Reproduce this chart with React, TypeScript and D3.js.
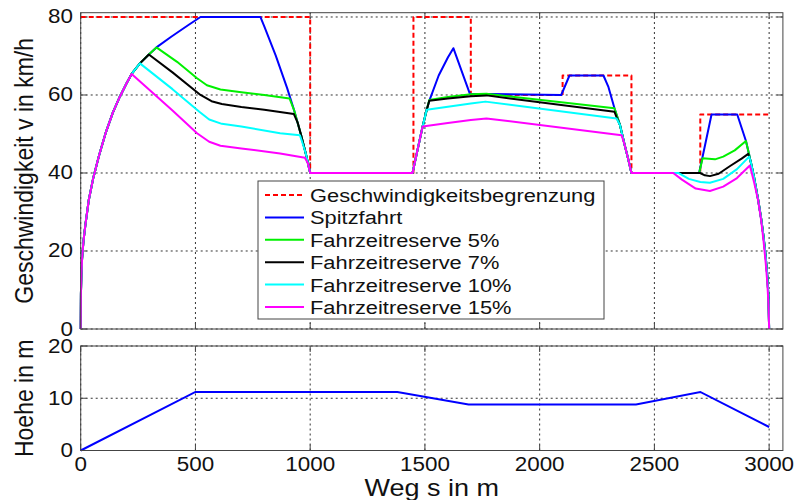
import React from "react";
import * as d3 from "d3";

type P = [number, number];

const xTicks = [0, 500, 1000, 1500, 2000, 2500, 3000];
const vTicks = [0, 20, 40, 60, 80];
const hTicks = [0, 10, 20];

const legendLabels = [
  "Geschwindigkeitsbegrenzung",
  "Spitzfahrt",
  "Fahrzeitreserve 5%",
  "Fahrzeitreserve 7%",
  "Fahrzeitreserve 10%",
  "Fahrzeitreserve 15%",
];
const seriesColors = ["#ff0000", "#0000ff", "#00f000", "#000000", "#00ffff", "#ff00ff"];

const begrenzung: P[] = [
  [0, 80], [1000, 80], [1000, 40], [1450, 40], [1450, 80], [1700, 80], [1700, 60],
  [2100, 60], [2100, 65], [2400, 65], [2400, 40], [2700, 40], [2700, 55], [3000, 55],
];

const spitzfahrt: P[] = [
  [0, 0], [1, 9], [3, 14], [6, 18], [12, 22.5], [20, 26.5], [35, 33], [55, 38.8], [80, 44.5],
  [110, 50.5], [140, 55.5], [170, 59.5], [200, 63], [222, 65.4],
  [258, 68.1], [297, 70.4], [330, 72.2], [396, 75], [471, 78], [522, 80], [783, 80],
  [800, 77.6], [850, 70.1], [900, 61.7], [930, 56.1], [960, 49.8], [980, 45.2], [1000, 40],
  [1446, 40], [1470, 46.5], [1490, 51.9], [1508, 56.2], [1519, 58.5], [1560, 65], [1600, 69.6],
  [1624, 72], [1696, 60.3], [2094, 60], [2130, 65], [2278, 65], [2300, 62], [2326, 56.6],
  [2350, 52.3], [2370, 47.3], [2385, 43.8], [2400, 40], [2695, 40], [2749, 55], [2861, 55],
  [2899, 48.2], [2913, 44.7], [2935, 38.7], [2952, 33.2], [2965, 28.4], [2975, 24],
  [2985, 18.6], [2992, 13.6], [2997, 8.3], [3000, 0],
];

const reserve5: P[] = [
  [0, 0], [1, 9], [3, 14], [6, 18], [12, 22.5], [20, 26.5], [35, 33], [55, 38.8], [80, 44.5],
  [110, 50.5], [140, 55.5], [170, 59.5], [200, 63], [222, 65.4],
  [258, 68.1], [297, 70.4], [330, 72.2], [420, 68.5], [507, 64.3], [550, 62.5], [609, 61.4],
  [700, 60.7], [800, 60], [910, 59.1], [930, 56.1], [960, 49.8], [980, 45.2], [1000, 40],
  [1446, 40], [1470, 46.5], [1490, 51.9], [1508, 56.2], [1519, 58.7], [1600, 59.5], [1700, 60.2],
  [1768, 60.3], [2326, 56.6], [2350, 52.3], [2370, 47.3], [2385, 43.8], [2400, 40],
  [2695, 40], [2710, 43.8], [2764, 43.5], [2800, 44.2], [2850, 45.8], [2899, 48.2],
  [2913, 44.7], [2935, 38.7], [2952, 33.2], [2965, 28.4], [2975, 24], [2985, 18.6],
  [2992, 13.6], [2997, 8.3], [3000, 0],
];

const reserve7: P[] = [
  [0, 0], [1, 9], [3, 14], [6, 18], [12, 22.5], [20, 26.5], [35, 33], [55, 38.8], [80, 44.5],
  [110, 50.5], [140, 55.5], [170, 59.5], [200, 63], [222, 65.4],
  [258, 68.1], [297, 70.4], [400, 65.8], [522, 60], [570, 58.4], [615, 57.7], [700, 56.9],
  [800, 56.2], [929, 55.1], [945, 53], [960, 49.8], [980, 45.2], [1000, 40],
  [1446, 40], [1470, 46.5], [1490, 51.9], [1508, 56.2], [1519, 58.5], [1600, 59.1], [1700, 59.7],
  [1768, 59.9], [2326, 55.7], [2335, 54.3], [2350, 52.3], [2370, 47.3], [2385, 43.8], [2400, 40],
  [2633, 40], [2699, 40], [2720, 39.4], [2742, 39.2], [2780, 39.8], [2830, 41.8], [2880, 43.7],
  [2909, 44.9], [2920, 42.9], [2935, 38.7], [2952, 33.2], [2965, 28.4], [2975, 24],
  [2985, 18.6], [2992, 13.6], [2997, 8.3], [3000, 0],
];

const reserve10: P[] = [
  [0, 0], [1, 9], [3, 14], [6, 18], [12, 22.5], [20, 26.5], [35, 33], [55, 38.8], [80, 44.5],
  [110, 50.5], [140, 55.5], [170, 59.5], [200, 63], [222, 65.4],
  [258, 68.1], [400, 61.5], [517, 55.7], [560, 53.7], [615, 52.6], [700, 51.9], [869, 50.2],
  [955, 49.7], [965, 48], [980, 45.2], [1000, 40],
  [1446, 40], [1470, 46.5], [1490, 51.9], [1508, 56.2], [1600, 57], [1700, 57.8], [1764, 58.3],
  [2335, 54], [2350, 52.3], [2370, 47.3], [2385, 43.8], [2400, 40],
  [2604, 40], [2650, 38.5], [2700, 37.7], [2742, 37.5], [2800, 38.5], [2860, 41], [2913, 44.2],
  [2920, 42.9], [2935, 38.7], [2952, 33.2], [2965, 28.4], [2975, 24], [2985, 18.6],
  [2992, 13.6], [2997, 8.3], [3000, 0],
];

const reserve15: P[] = [
  [0, 0], [1, 9], [3, 14], [6, 18], [12, 22.5], [20, 26.5], [35, 33], [55, 38.8], [80, 44.5],
  [110, 50.5], [140, 55.5], [170, 59.5], [200, 63], [222, 65.4],
  [400, 56], [507, 50.2], [560, 48], [609, 47], [700, 46.3], [869, 45], [977, 43.9],
  [990, 42.5], [1000, 40],
  [1446, 40], [1470, 46.5], [1490, 51.9], [1600, 52.8], [1700, 53.6], [1768, 54],
  [2357, 49.7], [2370, 47.3], [2385, 43.8], [2400, 40],
  [2582, 40], [2620, 38.3], [2680, 36], [2742, 35.4], [2800, 36.5], [2860, 38.7], [2916, 41.9],
  [2935, 37.5], [2952, 33], [2965, 28], [2975, 23], [2985, 17], [2992, 12], [2997, 6.5], [3000, 0],
];

const hoehe: P[] = [
  [0, 0], [500, 11.2], [1380, 11.2], [1690, 8.8], [2420, 8.8], [2700, 11.2], [3000, 4.5],
];

const W = 811;
const H = 500;
const SX = 1.15;
const FONT = "'Liberation Sans', Arial, sans-serif";

export default function App() {
  const x = d3.scaleLinear().domain([0, 3060]).range([80.7, 782.9]);
  const yV = d3.scaleLinear().domain([0, 81.1]).range([329, 12.7]);
  const yH = d3.scaleLinear().domain([0, 20]).range([450.5, 346]);

  const lineV = d3.line<P>().x((d) => x(d[0])).y((d) => yV(d[1]));
  const lineH = d3.line<P>().x((d) => x(d[0])).y((d) => yH(d[1]));

  const series = [begrenzung, spitzfahrt, reserve5, reserve7, reserve10, reserve15];

  const x0 = x.range()[0];
  const x1 = x.range()[1];

  const axesBox = (yScale: d3.ScaleLinear<number, number>, yt: number[], key: string, showX: boolean) => {
    const [yb, yt0] = yScale.range();
    return (
      <g key={key}>
        <rect x={x0} y={yt0} width={x1 - x0} height={yb - yt0} fill="#fff" />
        {xTicks.map((t) => (
          <line key={"gx" + t} x1={x(t)} x2={x(t)} y1={yb} y2={yt0} stroke="#333" strokeWidth={1} strokeDasharray="2 3" />
        ))}
        {yt.map((t) => (
          <line key={"gy" + t} x1={x0} x2={x1} y1={yScale(t)} y2={yScale(t)} stroke="#333" strokeWidth={1} strokeDasharray="2 3" />
        ))}
        {xTicks.map((t) => (
          <g key={"tx" + t}>
            <line x1={x(t)} x2={x(t)} y1={yb} y2={yb - 6} stroke="#444" />
            <line x1={x(t)} x2={x(t)} y1={yt0} y2={yt0 + 6} stroke="#444" />
          </g>
        ))}
        {yt.map((t) => (
          <g key={"ty" + t}>
            <line x1={x0} x2={x0 + 6} y1={yScale(t)} y2={yScale(t)} stroke="#444" />
            <line x1={x1} x2={x1 - 6} y1={yScale(t)} y2={yScale(t)} stroke="#444" />
          </g>
        ))}
        {yt.map((t) => (
          <text key={"ly" + t} transform={`translate(73,${yScale(t) + 6.5}) scale(${SX},1)`} textAnchor="end" fontSize={19.5} fontFamily={FONT} fill="#111">
            {t}
          </text>
        ))}
        {showX &&
          xTicks.map((t) => (
            <text key={"lx" + t} transform={`translate(${x(t)},471) scale(${SX},1)`} textAnchor="middle" fontSize={19.5} fontFamily={FONT} fill="#111">
              {t}
            </text>
          ))}
      </g>
    );
  };

  const legendX = 258;
  const legendY = 181;
  const rowH = 22.4;

  return (
    <svg width={W} height={H} style={{ position: "absolute", left: 0, top: 0, background: "#fff" }}>
      <rect x={0} y={0} width={W} height={H} fill="#fff" />
      {axesBox(yV, vTicks, "top", false)}
      {axesBox(yH, hTicks, "bottom", true)}

      <g>
        {series.map((s, i) => (
          <path
            key={i}
            d={lineV(s) || ""}
            fill="none"
            stroke={seriesColors[i]}
            strokeWidth={2}
            strokeDasharray={i === 0 ? "5 3" : undefined}
            strokeLinejoin="round"
          />
        ))}
      </g>
      <path d={lineH(hoehe) || ""} fill="none" stroke="#0000ff" strokeWidth={2} />

      <rect x={x0} y={12.7} width={x1 - x0} height={329 - 12.7} fill="none" stroke="#444" strokeWidth={1} />
      <rect x={x0} y={346} width={x1 - x0} height={450.5 - 346} fill="none" stroke="#444" strokeWidth={1} />

      <g>
        <rect x={legendX} y={legendY} width={346} height={138} fill="#fff" stroke="#444" strokeWidth={1} />
        {legendLabels.map((lab, i) => {
          const cy = legendY + 14 + i * rowH;
          return (
            <g key={lab}>
              <line x1={265} x2={304} y1={cy} y2={cy} stroke={seriesColors[i]} strokeWidth={2} strokeDasharray={i === 0 ? "5 3" : undefined} />
              <text transform={`translate(310,${cy + 7}) scale(${SX},1)`} fontSize={19} fontFamily={FONT} fill="#111">
                {lab}
              </text>
            </g>
          );
        })}
      </g>

      <text transform={`translate(33,${(12.7 + 329) / 2}) rotate(-90) scale(1,${SX})`} textAnchor="middle" fontSize={23} fontFamily={FONT} fill="#111">
        Geschwindigkeit v in km/h
      </text>
      <text transform={`translate(33,${(346 + 450.5) / 2}) rotate(-90) scale(1,${SX})`} textAnchor="middle" fontSize={23} fontFamily={FONT} fill="#111">
        Hoehe in m
      </text>
      <text transform={`translate(${(x0 + x1) / 2},496) scale(${SX},1)`} textAnchor="middle" fontSize={23.5} fontFamily={FONT} fill="#111">
        Weg s in m
      </text>
    </svg>
  );
}
